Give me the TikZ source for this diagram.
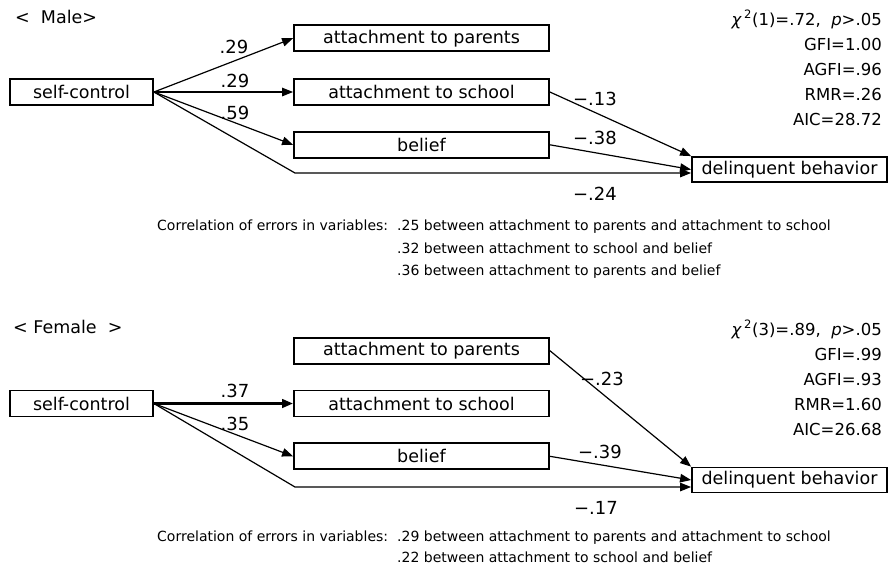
\documentclass[tikz,border=0pt]{standalone}
\usepackage{fontspec}
\setmainfont{DejaVu Sans}
\usepackage{tikz}
\usetikzlibrary{arrows.meta, positioning}
\tikzstyle{arrow} = [line width=1.2pt, -{Triangle[length=11pt,width=8.5pt]}]
\tikzstyle{strong} = [line width=2.6pt, -{Triangle[length=11pt,width=8.5pt]}]

\begin{document}
\begin{tikzpicture}[
    x=1pt, y=-1pt,
    var/.style={rectangle, draw, line width=1.8pt, minimum width=255pt, minimum height=26pt, inner sep=0pt, font=\fontsize{17.5}{20}\selectfont},
    outcome/.style={var, minimum width=195pt, minimum height=25pt},
    coef/.style={anchor=base, inner sep=0pt, font=\fontsize{18}{20}\selectfont},
    stat/.style={anchor=base east, inner sep=0pt, font=\fontsize{16.5}{20}\selectfont},
    note/.style={anchor=base west, inner sep=0pt, font=\fontsize{14}{16}\selectfont},
    title/.style={anchor=base west, inner sep=0pt, font=\fontsize{17.5}{20}\selectfont}
]
    \useasboundingbox (0,0) rectangle (889,566);

    % Male panel
    \node [title] (mtitle) at (15,23) {<\ \ Male>};
    \node [var, minimum width=143pt] (sc) at (81.5,92) {self-control};
    \node [var] (sch) at (421.5,92) {attachment to school};
    \node [var, above=26pt of sch] (par) {attachment to parents};
    \node [var, below=25pt of sch] (bel) {belief};
    \node [outcome] (del) at (789.5,169.5) {delinquent behavior};
    \coordinate (mbend) at (295,173);

    \draw [arrow] (sc.east) -- (par.west);
    \draw [arrow] (sc.east) -- (sch.west);
    \draw [arrow] (sc.east) -- (bel.west);
    \draw [arrow] (sc.east) -- (mbend) -- (mbend -| del.west);
    \draw [arrow] (sch.east) -- (del.north west);
    \draw [arrow] (bel.east) -- (del.west);

    \node [coef] (mc1) at (234,53) {.29};
    \node [coef] (mc2) at (235,87) {.29};
    \node [coef] (mc3) at (235,119) {.59};
    \node [coef] (mc4) at (595,105) {−.13};
    \node [coef] (mc5) at (595,144) {−.38};
    \node [coef] (mc6) at (595,200) {−.24};

    \node [stat] (mchi) at (882,25) {{\itshape χ}\,\textsuperscript{2}(1)=.72,\ \ {\itshape p}>.05};
    \node [stat] (mgfi) at (882,50) {GFI=1.00};
    \node [stat] (magfi) at (882,75) {AGFI=.96};
    \node [stat] (mrmr) at (882,100) {RMR=.26};
    \node [stat] (maic) at (882,125) {AIC=28.72};

    \node [note] (mcorr) at (157,230) {Correlation of errors in variables:};
    \node [note] (mcorr1) at (397,230) {.25 between attachment to parents and attachment to school};
    \node [note] (mcorr2) at (397,253) {.32 between attachment to school and belief};
    \node [note] (mcorr3) at (397,275) {.36 between attachment to parents and belief};

    % Female panel
    \node [title] (ftitle) at (13,333) {<\ Female\ \ >};
    \node [var, minimum width=143pt] (fsc) at (81.5,403.5) {self-control};
    \node [var] (fsch) at (421.5,403.5) {attachment to school};
    \node [var, above=25pt of fsch] (fpar) {attachment to parents};
    \node [var, below=25pt of fsch] (fbel) {belief};
    \node [outcome] (fdel) at (789.5,480) {delinquent behavior};
    \coordinate (fbend) at (295,487);

    \draw [strong] (fsc.east) -- (fsch.west);
    \draw [arrow] (fsc.east) -- (fbel.west);
    \draw [arrow] (fsc.east) -- (fbend) -- (fbend -| fdel.west);
    \draw [arrow] (fpar.east) -- (fdel.north west);
    \draw [arrow] (fbel.east) -- (fdel.west);

    \node [coef] (fc1) at (235,397) {.37};
    \node [coef] (fc2) at (235,430) {.35};
    \node [coef] (fc3) at (602,385) {−.23};
    \node [coef] (fc4) at (600,458) {−.39};
    \node [coef] (fc5) at (596,514) {−.17};

    \node [stat] (fchi) at (882,335) {{\itshape χ}\,\textsuperscript{2}(3)=.89,\ \ {\itshape p}>.05};
    \node [stat] (fgfi) at (882,360) {GFI=.99};
    \node [stat] (fagfi) at (882,385) {AGFI=.93};
    \node [stat] (frmr) at (882,410) {RMR=1.60};
    \node [stat] (faic) at (882,435) {AIC=26.68};

    \node [note] (fcorr) at (157,541) {Correlation of errors in variables:};
    \node [note] (fcorr1) at (397,541) {.29 between attachment to parents and attachment to school};
    \node [note] (fcorr2) at (397,562) {.22 between attachment to school and belief};
\end{tikzpicture}
\end{document}
